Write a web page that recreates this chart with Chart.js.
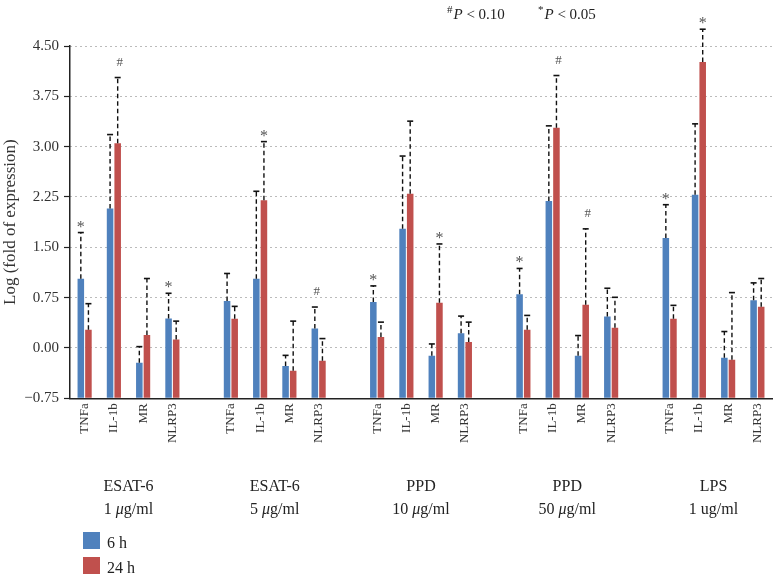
<!DOCTYPE html>
<html><head><meta charset="utf-8">
<script src="https://cdn.jsdelivr.net/npm/chart.js@4.4.1/dist/chart.umd.min.js"></script>
<style>html,body{margin:0;padding:0;background:#fff;overflow:hidden;width:774px;height:574px}canvas{display:block}</style>
</head><body>
<canvas id="c" width="778" height="574"></canvas>
<script>
// ---- data ----
const groupNames = ['ESAT-6', 'ESAT-6', 'PPD', 'PPD', 'LPS'];
const groupDoses = ['1 μg/ml', '5 μg/ml', '10 μg/ml', '50 μg/ml', '1 ug/ml'];
const genes = ['TNFa', 'IL-1b', 'MR', 'NLRP3'];
const seriesNames = ['6 h', '24 h'];
const yTicks = [-0.75, 0, 0.75, 1.5, 2.25, 3, 3.75, 4.5];

const mean6h = [1.03, 2.08, -0.22, 0.44,   0.70, 1.03, -0.27, 0.29,   0.685, 1.775, -0.115, 0.22,   0.80, 2.19, -0.115, 0.47,   1.64, 2.285, -0.145, 0.71];
const err6h  = [0.69, 1.10, 0.24, 0.375,   0.41, 1.305, 0.16, 0.32,   0.24, 1.085, 0.175, 0.255,    0.385, 1.12, 0.30, 0.42,    0.495, 1.055, 0.39, 0.26];
const mean24h = [0.27, 3.05, 0.195, 0.125, 0.435, 2.20, -0.34, -0.19, 0.165, 2.30, 0.675, 0.09,   0.27, 3.28, 0.645, 0.30,    0.435, 4.26, -0.175, 0.615];
const err24h  = [0.39, 0.98, 0.84, 0.275,  0.185, 0.875, 0.74, 0.33,  0.22, 1.08, 0.875, 0.295,   0.215, 0.78, 1.13, 0.455,   0.20, 0.49, 1.00, 0.42];
const sig6h  = ['*', '', '', '*',   '', '', '', '#',   '*', '', '', '',   '*', '', '', '',   '*', '', '', ''];
const sig24h = ['', '#', '', '',    '', '*', '', '',   '', '', '*', '',   '', '#', '#', '',  '', '*', '', ''];
const pNotes = [['#', ' < 0.10'], ['*', ' < 0.05']];

// ---- build slots (one empty slot between groups) ----
const labels = [];
const slotIdx = [];
groupNames.forEach((g, gi) => {
  genes.forEach((gene, k) => { slotIdx.push(labels.length); labels.push(gene); });
  if (gi < groupNames.length - 1) labels.push('');
});
function toSlots(arr) {
  const out = labels.map(() => null);
  arr.forEach((v, i) => { out[slotIdx[i]] = v; });
  return out;
}

const SERIF = "'Liberation Serif', 'DejaVu Serif', serif";
const colors = ['#4f81bd', '#c0504d'];
const yMin = yTicks[0], yMax = yTicks[yTicks.length - 1];

const errPlugin = {
  id: 'errbars',
  afterDatasetsDraw(chart) {
    const ctx = chart.ctx, ys = chart.scales.y;
    const sets = [[mean6h, err6h, sig6h], [mean24h, err24h, sig24h]];
    sets.forEach(([m, e, s], di) => {
      const meta = chart.getDatasetMeta(di);
      m.forEach((v, k) => {
        const el = meta.data[slotIdx[k]];
        const x = el.x;
        const y0 = ys.getPixelForValue(v);
        const y1 = ys.getPixelForValue(v + e[k]);
        ctx.save();
        ctx.strokeStyle = '#111';
        ctx.lineWidth = 1.4;
        ctx.setLineDash([4.5, 3]);
        ctx.beginPath(); ctx.moveTo(x, y0); ctx.lineTo(x, y1); ctx.stroke();
        ctx.setLineDash([]);
        ctx.lineWidth = 1.6;
        ctx.beginPath(); ctx.moveTo(x - 3, y1); ctx.lineTo(x + 3, y1); ctx.stroke();
        if (s[k]) {
          ctx.fillStyle = '#555';
          ctx.textAlign = 'center';
          ctx.textBaseline = 'alphabetic';
          if (s[k] === '*') {
            ctx.font = '16px ' + SERIF;
            ctx.fillText('*', x, y1 - 1);
          } else {
            ctx.font = '13px ' + SERIF;
            ctx.fillText('#', x + 2, y1 - 12);
          }
        }
        ctx.restore();
      });
    });
  }
};

const annoPlugin = {
  id: 'anno',
  afterDraw(chart) {
    const ctx = chart.ctx, xs = chart.scales.x;
    ctx.save();
    ctx.fillStyle = '#222';
    ctx.textBaseline = 'alphabetic';
    // group labels
    groupNames.forEach((g, gi) => {
      const a = xs.getPixelForValue(slotIdx[gi * 4]);
      const b = xs.getPixelForValue(slotIdx[gi * 4 + 3]);
      const cx = (a + b) / 2;
      ctx.font = '16px ' + SERIF;
      ctx.textAlign = 'center';
      ctx.fillText(g, cx, 491);
      // second line with italic μ
      const parts = groupDoses[gi].split('μ');
      const segs = [];
      parts.forEach((p, i) => {
        if (i > 0) segs.push(['μ', 'italic 16px ' + SERIF]);
        if (p) segs.push([p, '16px ' + SERIF]);
      });
      let w = 0;
      segs.forEach(([t, f]) => { ctx.font = f; w += ctx.measureText(t).width; });
      let x = cx - w / 2;
      ctx.textAlign = 'left';
      segs.forEach(([t, f]) => { ctx.font = f; ctx.fillText(t, x, 514); x += ctx.measureText(t).width; });
    });
    // legend
    seriesNames.forEach((n, i) => {
      const y = 532 + i * 25;
      ctx.fillStyle = colors[i];
      ctx.fillRect(83, y, 17, 17);
      ctx.fillStyle = '#222';
      ctx.font = '16px ' + SERIF;
      ctx.textAlign = 'left';
      ctx.fillText(n, 107, y + 16);
    });
    // p-value notes
    const starts = [447, 538];
    pNotes.forEach(([sym, txt], i) => {
      let x = starts[i];
      ctx.font = '11px ' + SERIF;
      ctx.textAlign = 'left';
      ctx.fillText(sym, x, 13);
      x += ctx.measureText(sym).width + 1;
      ctx.font = 'italic 15px ' + SERIF;
      ctx.fillText('P', x, 19);
      x += ctx.measureText('P').width;
      ctx.font = '15px ' + SERIF;
      ctx.fillText(txt, x, 19);
    });
    ctx.restore();
  }
};

new Chart(document.getElementById('c'), {
  type: 'bar',
  data: {
    labels: labels,
    datasets: [
      { label: seriesNames[0], data: toSlots(mean6h), backgroundColor: colors[0], base: yMin, borderWidth: 0 },
      { label: seriesNames[1], data: toSlots(mean24h), backgroundColor: colors[1], base: yMin, borderWidth: 0 }
    ]
  },
  options: {
    responsive: false,
    animation: false,
    devicePixelRatio: 1,
    layout: { padding: { top: 46, left: 0, right: 0, bottom: 0 } },
    datasets: { bar: { categoryPercentage: 0.52, barPercentage: 0.86, skipNull: false } },
    plugins: { legend: { display: false }, tooltip: { enabled: false } },
    scales: {
      x: {
        grid: { display: false, drawTicks: false },
        border: { display: true, color: '#222', width: 1.5 },
        ticks: { autoSkip: false, maxRotation: 90, minRotation: 90, padding: 5,
                 font: { family: SERIF, size: 13 }, color: '#333' },
        afterFit(s) { s.height = 574 - 398.3; }
      },
      y: {
        min: yMin, max: yMax,
        afterBuildTicks(s) { s.ticks = yTicks.map(v => ({ value: v })); },
        ticks: { padding: 5, font: { family: SERIF, size: 15 }, color: '#333',
                 callback: v => (v < 0 ? '−' : '') + Math.abs(v).toFixed(2) },
        grid: { color: '#777', lineWidth: 1, drawTicks: true, tickLength: 6,
                tickColor: '#222', tickBorderDash: [], tickWidth: 1.2 },
        border: { display: true, color: '#222', width: 1.5, dash: [1, 4] },
        title: { display: true, text: 'Log (fold of expression)', font: { family: SERIF, size: 17 },
                 color: '#333', padding: { top: 0, bottom: 0 } },
        afterFit(s) { s.width = 70; }
      }
    }
  },
  plugins: [errPlugin, annoPlugin]
});
</script>
</body></html>
